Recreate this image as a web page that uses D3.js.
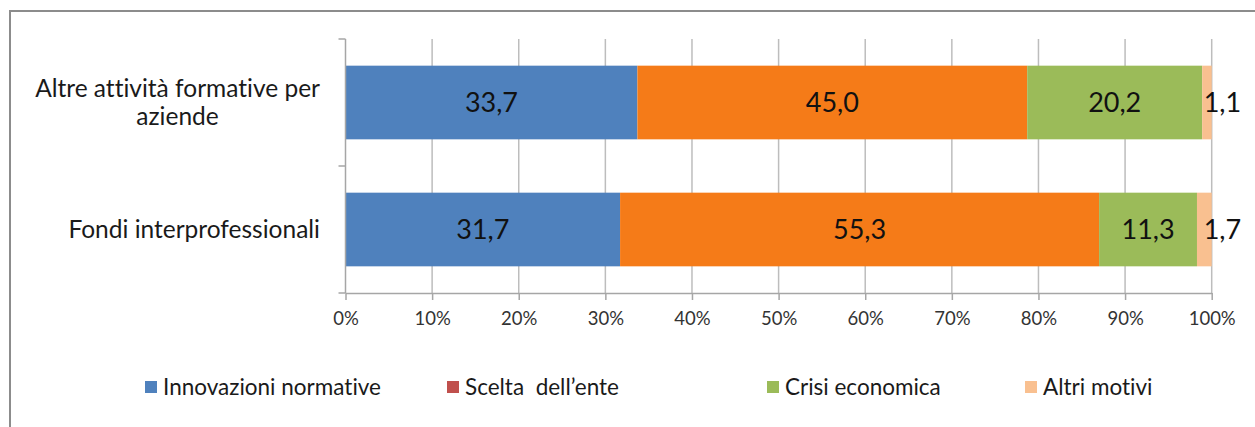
<!DOCTYPE html>
<html>
<head>
<meta charset="utf-8">
<script src="https://cdn.jsdelivr.net/npm/d3@7"></script>
<style>
  html, body { margin: 0; padding: 0; background: #fff; }
  svg { display: block; font-family: Lato, "Noto Sans", sans-serif; font-variant-ligatures: none; font-feature-settings: "liga" 0, "clig" 0; }
</style>
</head>
<body>
<svg id="chart" width="1255" height="427"></svg>
<script>
// Categories (top to bottom) and their label lines
const categories = ["Altre attività formative per aziende", "Fondi interprofessionali"];
const categoryLines = [["Altre attività formative per", "aziende"], ["Fondi interprofessionali"]];

// Series (stacked left to right)
const seriesNames = ["Innovazioni normative", "Scelta  dell\u2019ente", "Crisi economica", "Altri motivi"];
const innovazioni = [33.7, 31.7];
const sceltaEnte  = [45.0, 55.3];
const crisi       = [20.2, 11.3];
const altri       = [1.1, 1.7];

const barColors    = ["#4F81BD", "#F57B18", "#9BBB59", "#F9C090"];
const legendColors = ["#4F81BD", "#C0504D", "#9BBB59", "#F9C090"];

const tickValues = [0, 10, 20, 30, 40, 50, 60, 70, 80, 90, 100];

const svg = d3.select("#chart");
const W = 1255, H = 427;

// Outer chart frame (continues past the right and bottom edges)
svg.append("rect")
  .attr("x", 10).attr("y", 11)
  .attr("width", W + 20).attr("height", H + 20)
  .attr("fill", "#fff")
  .attr("stroke", "#8c8c8c").attr("stroke-width", 2);

const x = d3.scaleLinear().domain([0, 100]).range([345.5, 1211.7]);
const y = d3.scaleBand().domain(categories).range([39, 293])
  .paddingInner(0.42).paddingOuter(0.21);

// Gridlines
svg.append("g")
  .selectAll("line")
  .data(tickValues.filter(d => d > 0))
  .join("line")
  .attr("x1", d => x(d)).attr("x2", d => x(d))
  .attr("y1", y.range()[0]).attr("y2", y.range()[1])
  .attr("stroke", "#bdbdbd").attr("stroke-width", 1.5);

// Stacked data
const table = categories.map((c, i) => ({
  cat: c,
  [seriesNames[0]]: innovazioni[i],
  [seriesNames[1]]: sceltaEnte[i],
  [seriesNames[2]]: crisi[i],
  [seriesNames[3]]: altri[i]
}));
const stacked = d3.stack().keys(seriesNames)(table);

const it = d3.formatLocale({ decimal: ",", thousands: ".", grouping: [3], currency: ["", "€"] });
const fmt = it.format(".1f");

const layers = svg.append("g").selectAll("g")
  .data(stacked)
  .join("g")
  .attr("fill", (d, i) => barColors[i]);

layers.selectAll("rect")
  .data(d => d)
  .join("rect")
  .attr("x", d => x(d[0]))
  .attr("width", d => x(d[1]) - x(d[0]))
  .attr("y", d => y(d.data.cat))
  .attr("height", y.bandwidth());

// Value labels
const labels = svg.append("g")
  .attr("font-size", 27)
  .attr("fill", "#111");
stacked.forEach(layer => {
  layer.forEach(d => {
    const v = d[1] - d[0];
    const small = v < 3;
    labels.append("text")
      .attr("x", small ? x(d[1]) - 8 : (x(d[0]) + x(d[1])) / 2)
      .attr("y", y(d.data.cat) + y.bandwidth() / 2)
      .attr("dy", "0.36em")
      .attr("text-anchor", small ? "start" : "middle")
      .text(fmt(v));
  });
});

// Axes
const axisColor = "#a6a6a6";
const xAxis = svg.append("g")
  .attr("transform", `translate(0,${y.range()[1]})`)
  .call(d3.axisBottom(x).tickValues(tickValues).tickSize(7).tickSizeOuter(0).tickPadding(12)
    .tickFormat(d => d + "%"));
xAxis.select(".domain").attr("stroke", axisColor).attr("stroke-width", 1.5);
xAxis.selectAll(".tick line").attr("stroke", axisColor).attr("stroke-width", 1.5);
xAxis.selectAll(".tick text")
  .attr("font-family", "Lato, sans-serif")
  .attr("font-size", 18.5).attr("fill", "#333");

// Category axis: line plus ticks at band boundaries
const yAxis = svg.append("g");
yAxis.append("line")
  .attr("x1", x(0)).attr("x2", x(0))
  .attr("y1", y.range()[0]).attr("y2", y.range()[1])
  .attr("stroke", axisColor).attr("stroke-width", 1.5);
const bounds = d3.range(categories.length + 1).map(i => y.range()[0] + i * y.step());
yAxis.selectAll(".yt").data(bounds).join("line")
  .attr("class", "yt")
  .attr("x1", x(0) - 7).attr("x2", x(0))
  .attr("y1", d => d).attr("y2", d => d)
  .attr("stroke", axisColor).attr("stroke-width", 1.5);

// Category labels: lines centred in a block whose right edge is fixed
const catG = svg.append("g").attr("font-size", 24.5).attr("fill", "#1a1a1a");
const rightEdge = 320, lineH = 28.5;
categories.forEach((c, i) => {
  const lines = categoryLines[i];
  const g = catG.append("g");
  const texts = lines.map((ln, j) => g.append("text")
    .attr("text-anchor", "middle")
    .attr("y", y(c) + y.bandwidth() / 2 + (j - (lines.length - 1) / 2) * lineH)
    .attr("dy", "0.35em")
    .text(ln));
  const maxW = d3.max(texts, t => t.node().getComputedTextLength());
  texts.forEach(t => t.attr("x", rightEdge - maxW / 2));
});

// Legend
const legendX = [145, 447, 767, 1025];
const legend = svg.append("g").attr("font-size", 22.5).attr("fill", "#1a1a1a");
seriesNames.forEach((name, i) => {
  legend.append("rect")
    .attr("x", legendX[i]).attr("y", 381)
    .attr("width", 12).attr("height", 12)
    .attr("fill", legendColors[i]);
  legend.append("text")
    .attr("x", legendX[i] + 18).attr("y", 387)
    .attr("dy", "0.35em")
    .style("white-space", "pre")
    .text(name);
});
</script>
</body>
</html>
